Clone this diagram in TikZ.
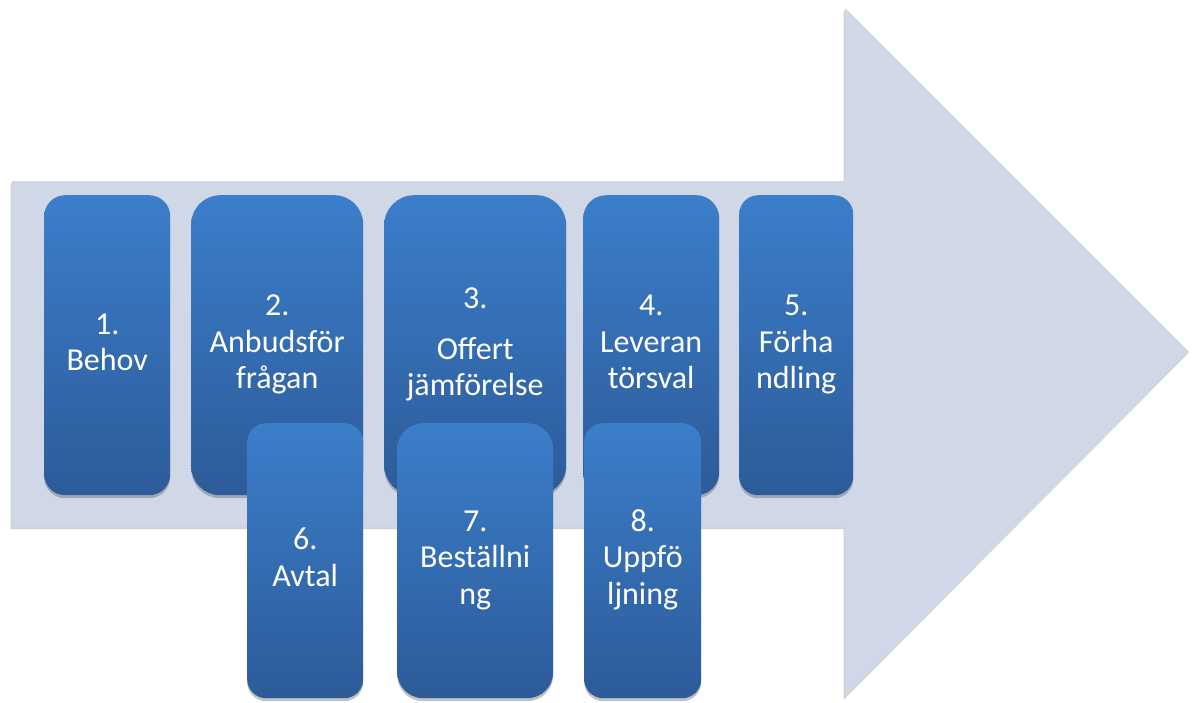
\documentclass[tikz,border=0pt]{standalone}
\usepackage{fontspec}
\setmainfont{Carlito}
\usetikzlibrary{shadows}
\definecolor{arrowfill}{RGB}{208,216,232}
\definecolor{boxtop}{RGB}{59,126,202}
\definecolor{boxbot}{RGB}{45,91,153}
\newcommand{\lstrut}{\rule[-11pt]{0pt}{36.5pt}}
\tikzset{
  stepbox/.style={rectangle, anchor=north west, inner sep=0pt, align=center,
    top color=boxtop, bottom color=boxbot, draw=none, text=white,
    font=\fontsize{32}{36.5}\selectfont,
    drop shadow={shadow xshift=0pt, shadow yshift=-3pt, opacity=0.35, fill=black!70}},
  bigarrow/.style={fill=arrowfill, draw=none,
    drop shadow={shadow xshift=-1.5pt, shadow yshift=-2pt, opacity=0.3, fill=black!60}}
}
\begin{document}
\begin{tikzpicture}[x=1pt,y=-1pt]
\useasboundingbox (0,0) rectangle (1192,702);
\path[bigarrow] (12,181) -- (845,181) -- (845,8) -- (1189,352) -- (845,698) -- (845,527) -- (12,527) -- cycle;
\node[stepbox, minimum width=126pt, minimum height=300pt, rounded corners=21pt] (b1) at (44,195) {\lstrut 1.\\ Behov\lstrut};
\node[stepbox, minimum width=172pt, minimum height=300pt, rounded corners=29pt] (b2) at (191,195) {\lstrut 2.\\ Anbudsför\\ frågan\lstrut};
\node[stepbox, minimum width=182pt, minimum height=300pt, rounded corners=30pt] (b3) at (384,195) {\lstrut 3.\\[14pt] Offert\\ jämförelse\lstrut};
\node[stepbox, minimum width=136pt, minimum height=300pt, rounded corners=23pt] (b4) at (583,195) {\lstrut 4.\\ Leveran\\ törsval\lstrut};
\node[stepbox, minimum width=114pt, minimum height=300pt, rounded corners=19pt] (b5) at (739,195) {\lstrut 5.\\ Förha\\ ndling\lstrut};
\node[stepbox, minimum width=116pt, minimum height=275pt, rounded corners=19pt] (b6) at (247,423) {\lstrut 6.\\ Avtal\lstrut};
\node[stepbox, minimum width=156pt, minimum height=275pt, rounded corners=26pt] (b7) at (397,423) {\lstrut 7.\\ Beställni\\ ng\lstrut};
\node[stepbox, minimum width=117pt, minimum height=275pt, rounded corners=19pt] (b8) at (584,423) {\lstrut 8.\\ Uppfö\\ ljning\lstrut};
\end{tikzpicture}
\end{document}
